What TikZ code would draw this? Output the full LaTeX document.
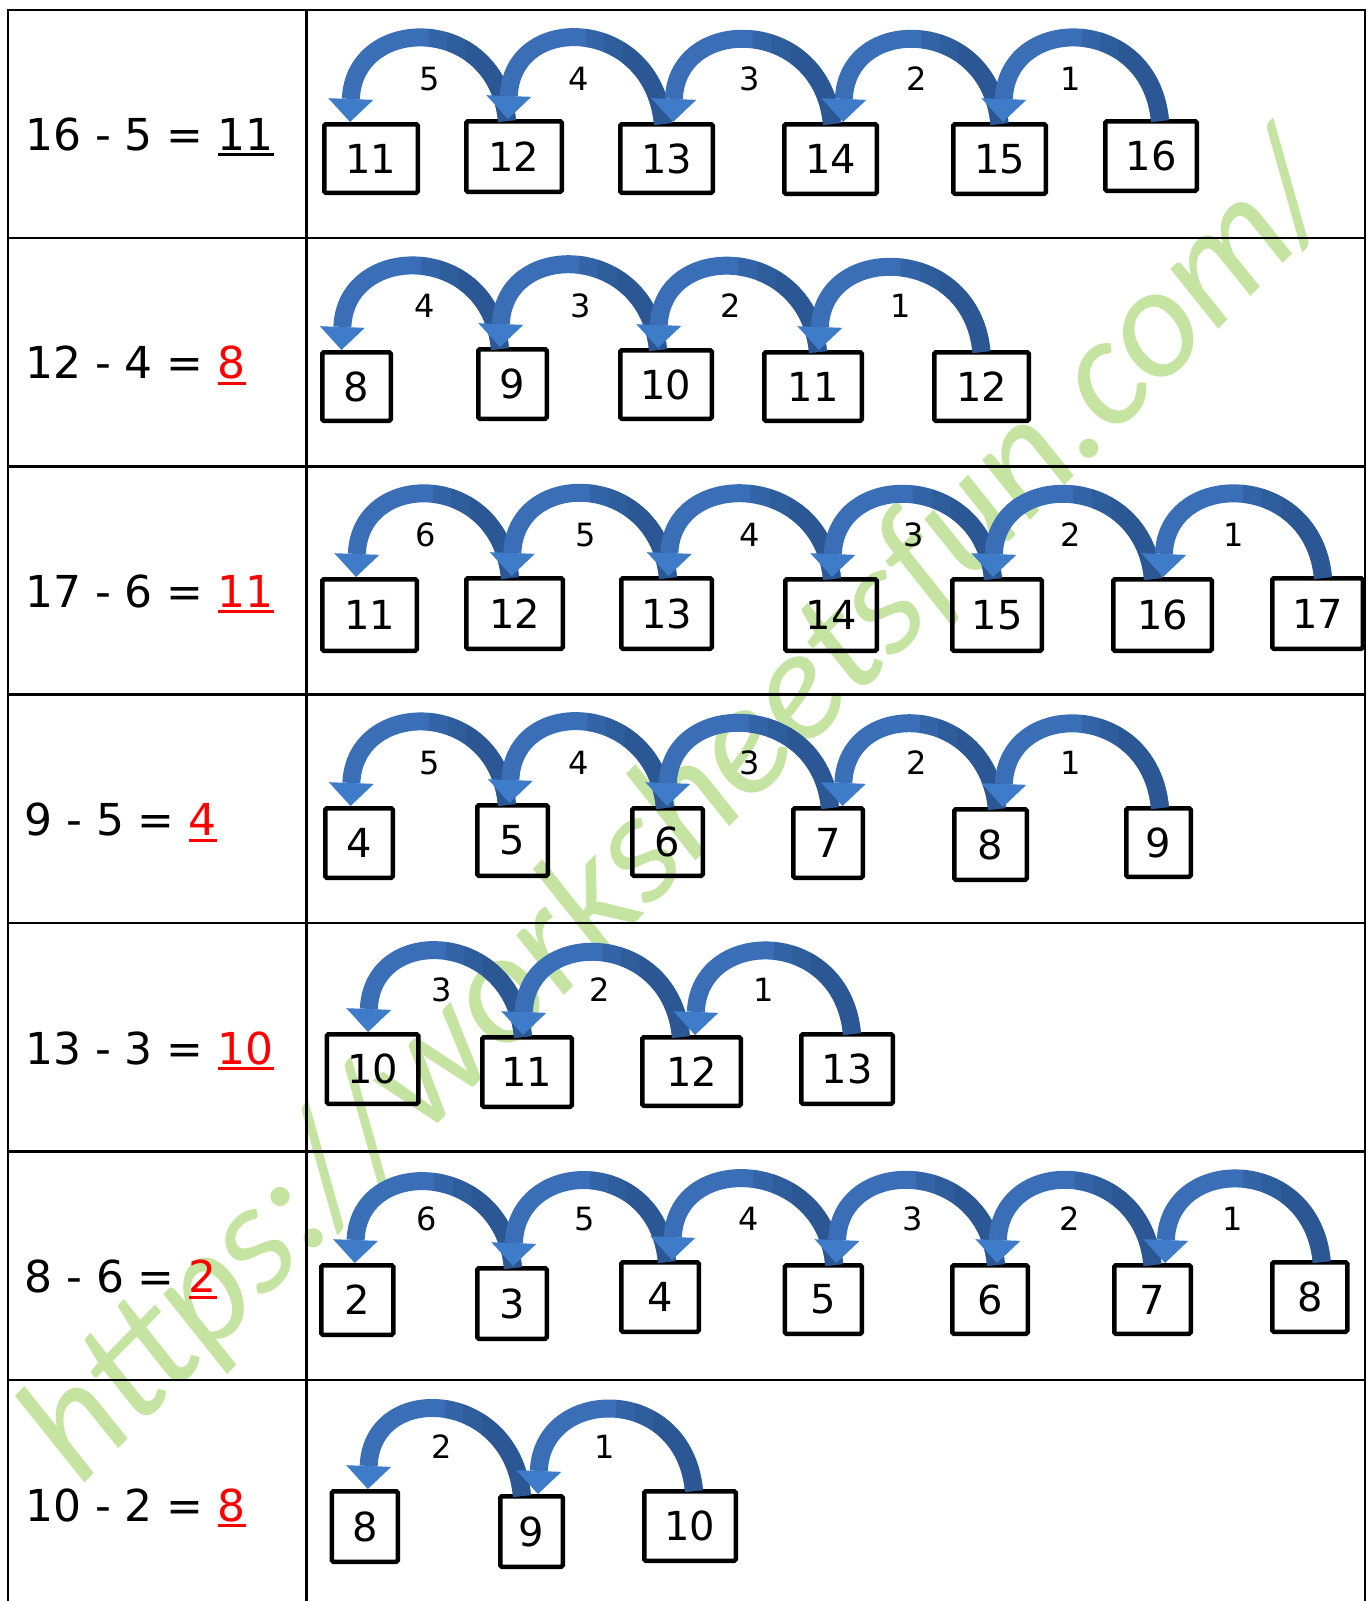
\documentclass[tikz,border=0pt]{standalone}
\usepackage{fontspec}
\setmainfont{DejaVu Sans}
\newfontfamily\wmfont{Carlito}
\usetikzlibrary{arrows.meta,calc}
\definecolor{arrband}{RGB}{58,111,184}
\definecolor{arrdark}{RGB}{38,80,136}
\definecolor{arrhead}{RGB}{62,123,200}
\definecolor{wmgreen}{RGB}{197,228,162}
\definecolor{ansred}{RGB}{255,0,0}
\newcommand\ansu[1]{\setbox0\hbox{#1}\rlap{\rule[-6pt]{\wd0}{3pt}}\box0}
\tikzset{
  tline/.style={line width=2.4pt, draw=black},
  numbox/.style={draw=black, line width=4.5pt, inner sep=0pt, rounded corners=1.5pt, font=\fontsize{40}{48}\selectfont},
  lbl/.style={inner sep=0pt, font=\fontsize{32}{36}\selectfont},
  eqn/.style={inner sep=0pt, anchor=base west, font=\fontsize{44}{52}\selectfont},
  jband/.style={line width=18pt, draw=arrband, -{Triangle[width=45pt,length=23pt,line width=0pt,color=arrhead]}},
  wmtext/.style={inner sep=0pt, text=wmgreen, font=\wmfont\itshape\fontsize{159}{170}\selectfont},
}
\newcommand\bx[6]{%
  \pgfmathsetmacro\bw{#4-#2-4.5}\pgfmathsetmacro\bh{#5-#3-4.5}%
  \pgfmathsetmacro\bcx{(#2+#4)/2}\pgfmathsetmacro\bcy{(#3+#5)/2}%
  \node[numbox, minimum width=\bw pt, minimum height=\bh pt] (#1) at (\bcx,\bcy) {#6};}
\newcommand\jmp[4]{%
  \coordinate (jt) at ($(#1.north)+(#3,2)$);
  \coordinate (jh) at ($(#2.north)+(#4,0)$);
  \draw[jband] (jt) .. controls +(-10,-108) and +(4,-108) .. (jh);
  \foreach \t in {0.5,0.62,0.74}{%
    \begin{scope}
      \clip ($(jh)!\t!(jt)+(0,20)$) rectangle ($(jt)+(40,-160)$);
      \draw[jband, draw=arrdark, draw opacity=0.35] (jt) .. controls +(-10,-108) and +(4,-108) .. (jh);
    \end{scope}}%
}
\begin{document}
\begin{tikzpicture}[x=1pt,y=-1pt]
\useasboundingbox (0,0) rectangle (1370,1601);
% watermark
\node[wmtext, rotate=45.5, anchor=base west] (wm) at (80,1488) {https://worksheetsfun.com/};
% table
\draw[tline] (8,1601) -- (8,10) -- (1365,10) -- (1365,1601);
\draw[tline] (306.5,10) -- (306.5,1601);
\foreach \yy in {238,466.5,694.5,923,1151.5,1380}{\draw[tline] (8,\yy) -- (1365,\yy);}
% equations
\node[eqn] (qa) at (25,150) {16 - 5 = \ansu{11}};
\node[eqn] (qb) at (25,378.5) {12 - 4 = {\color{ansred}\ansu{8}}};
\node[eqn] (qc) at (25,607) {17 - 6 = {\color{ansred}\ansu{11}}};
\node[eqn] (qd) at (24,835.5) {9 - 5 = {\color{ansred}\ansu{4}}};
\node[eqn] (qe) at (25,1064) {13 - 3 = {\color{ansred}\ansu{10}}};
\node[eqn] (qf) at (24,1292.5) {8 - 6 = {\color{ansred}\ansu{2}}};
\node[eqn] (qg) at (25,1521) {10 - 2 = {\color{ansred}\ansu{8}}};
% row a
\bx{a11}{322}{122}{420}{195}{11}
\bx{a12}{464}{119}{564}{194}{12}
\bx{a13}{618}{122}{715}{195}{13}
\bx{a14}{782}{122}{879}{196}{14}
\bx{a15}{951}{122}{1048}{196}{15}
\bx{a16}{1103}{119}{1199}{193}{16}
\jmp{a12}{a11}{-7}{-21}
\jmp{a13}{a12}{-3.5}{-6}
\jmp{a14}{a13}{1.5}{6.5}
\jmp{a15}{a14}{0}{12.5}
\jmp{a16}{a15}{9}{3.5}
\node[lbl] (la5) at (430,79) {5};
\node[lbl] (la4) at (579,79) {4};
\node[lbl] (la3) at (750,79) {3};
\node[lbl] (la2) at (917,79) {2};
\node[lbl] (la1) at (1071,79) {1};
% row b
\bx{b8}{320}{350}{393}{423}{8}
\bx{b9}{476}{347}{549}{421}{9}
\bx{b10}{618}{348}{714}{421}{10}
\bx{b11}{762}{350}{864}{423}{11}
\bx{b12}{932}{350}{1031}{423}{12}
\jmp{b9}{b8}{-12.5}{-15}
\jmp{b10}{b9}{-8}{-12.5}
\jmp{b11}{b10}{5}{-8}
\jmp{b12}{b11}{0}{6}
\node[lbl] (lb4) at (425,306) {4};
\node[lbl] (lb3) at (581,306) {3};
\node[lbl] (lb2) at (731,306) {2};
\node[lbl] (lb1) at (901,306) {1};
% row c
\bx{c11}{320}{577}{419}{653}{11}
\bx{c12}{464}{576}{565}{651}{12}
\bx{c13}{619}{576}{714}{651}{13}
\bx{c14}{783}{577}{879}{653}{14}
\bx{c15}{950}{577}{1044}{653}{15}
\bx{c16}{1111}{577}{1214}{653}{16}
\bx{c17}{1270}{576}{1365}{651}{17}
\jmp{c12}{c11}{-4.5}{-13.5}
\jmp{c13}{c12}{1.5}{-3}
\jmp{c14}{c13}{1}{2}
\jmp{c15}{c14}{-4}{1}
\jmp{c16}{c15}{-9.5}{-4}
\jmp{c17}{c16}{5.5}{0.5}
\node[lbl] (lc6) at (426,535) {6};
\node[lbl] (lc5) at (586,535) {5};
\node[lbl] (lc4) at (750,535) {4};
\node[lbl] (lc3) at (914,535) {3};
\node[lbl] (lc2) at (1071,535) {2};
\node[lbl] (lc1) at (1234,535) {1};
% row d
\bx{d4}{323}{806}{395}{880}{4}
\bx{d5}{475}{803}{550}{878}{5}
\bx{d6}{630}{806}{705}{878}{6}
\bx{d7}{791}{806}{865}{880}{7}
\bx{d8}{952}{807}{1029}{882}{8}
\bx{d9}{1124}{806}{1193}{879}{9}
\jmp{d5}{d4}{-5.5}{-8.5}
\jmp{d6}{d5}{-2.5}{-3}
\jmp{d7}{d6}{2}{-0.5}
\jmp{d8}{d7}{6.5}{14.5}
\jmp{d9}{d8}{1.5}{12.5}
\node[lbl] (ld5) at (430,763) {5};
\node[lbl] (ld4) at (579,763) {4};
\node[lbl] (ld3) at (750,763) {3};
\node[lbl] (ld2) at (917,763) {2};
\node[lbl] (ld1) at (1071,763) {1};
% row e
\bx{e10}{324.5}{1032}{420.5}{1106}{10}
\bx{e11}{480}{1035}{574}{1109}{11}
\bx{e12}{640}{1035}{743}{1108}{12}
\bx{e13}{799}{1032}{895}{1106}{13}
\jmp{e11}{e10}{-4}{-4.5}
\jmp{e12}{e11}{-10.5}{-4}
\jmp{e13}{e12}{5}{3.5}
\node[lbl] (le3) at (442,990) {3};
\node[lbl] (le2) at (600,990) {2};
\node[lbl] (le1) at (764,990) {1};
% row f
\bx{f2}{319}{1263}{395.5}{1337}{2}
\bx{f3}{475}{1266}{549}{1341}{3}
\bx{f4}{619}{1260}{701}{1334}{4}
\bx{f5}{782.5}{1263}{864}{1336}{5}
\bx{f6}{950}{1263}{1030}{1336}{6}
\bx{f7}{1112}{1263}{1193}{1336}{7}
\bx{f8}{1270}{1260}{1349.5}{1334}{8}
\jmp{f3}{f2}{1}{-2.5}
\jmp{f4}{f3}{7}{1}
\jmp{f5}{f4}{11}{12}
\jmp{f6}{f5}{6}{13}
\jmp{f7}{f6}{0}{7}
\jmp{f8}{f7}{12}{12.5}
\node[lbl] (lf6) at (427,1219) {6};
\node[lbl] (lf5) at (585,1219) {5};
\node[lbl] (lf4) at (749,1219) {4};
\node[lbl] (lf3) at (913,1219) {3};
\node[lbl] (lf2) at (1070,1219) {2};
\node[lbl] (lf1) at (1233,1219) {1};
% row g
\bx{g8}{329.6}{1489}{400}{1564}{8}
\bx{g9}{498}{1494}{565}{1569}{9}
\bx{g10}{642}{1489}{738}{1563}{10}
\jmp{g9}{g8}{-9.5}{3}
\jmp{g10}{g9}{4}{6.5}
\node[lbl] (lg2) at (442,1447) {2};
\node[lbl] (lg1) at (605,1447) {1};
\end{tikzpicture}
\end{document}
